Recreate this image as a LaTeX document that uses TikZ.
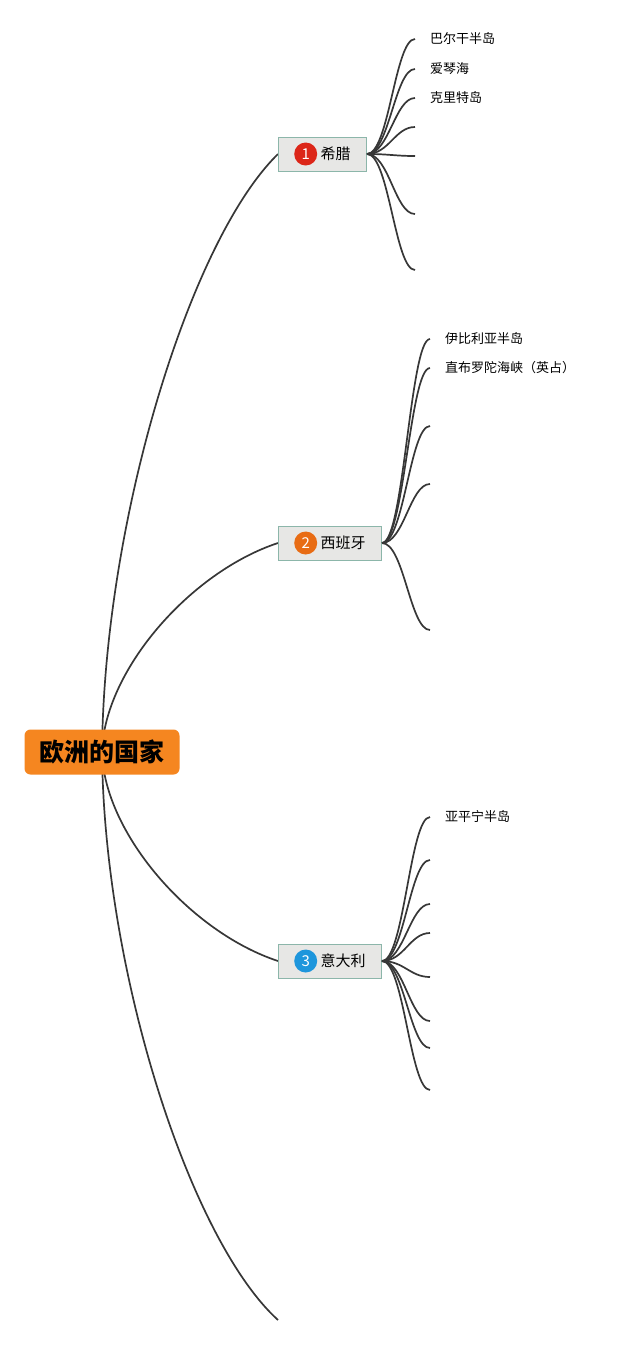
\documentclass[tikz,border=0pt]{standalone}
\usepackage{fontspec}
\setmainfont{Noto Sans CJK SC}
\usepackage{xcolor}
\usepackage{tikz}
\usetikzlibrary{positioning, backgrounds, calc}
\definecolor{rootorange}{RGB}{245,134,32}
\definecolor{branchgray}{RGB}{231,231,229}
\definecolor{branchedge}{RGB}{140,182,170}
\definecolor{numred}{RGB}{220,38,24}
\definecolor{numorange}{RGB}{232,108,20}
\definecolor{numblue}{RGB}{30,150,220}
\definecolor{linegray}{RGB}{55,55,55}
\tikzstyle{rootbox} = [rectangle, rounded corners=6pt, minimum width=155pt, minimum height=45pt, fill=rootorange, text=black, font=\fontsize{25}{30}\selectfont\bfseries]
\tikzstyle{branch} = [rectangle, anchor=west, minimum height=34pt, inner xsep=16pt, fill=branchgray, draw=branchedge, line width=1pt, font=\fontsize{15}{18}\selectfont, execute at begin node={\hspace*{26pt}}]
\tikzstyle{badge} = [circle, minimum size=23pt, inner sep=0pt, text=white, font=\fontsize{15}{17}\selectfont]
\tikzstyle{leaf} = [anchor=west, inner xsep=15pt, inner ysep=2pt, font=\fontsize{13}{16}\selectfont]
\tikzstyle{trunk} = [line width=1.7pt, draw=linegray]
\tikzstyle{twig} = [line width=1.7pt, draw=linegray, to path={.. controls ($(\tikztostart)+(22,0)$) and ($(\tikztotarget)+(-20,0)$) .. (\tikztotarget)}]

\begin{document}
\begin{tikzpicture}[x=1pt, y=-1pt]
    \useasboundingbox (0,0) rectangle (640,1345);

    % centre
    \node (root) [rootbox] at (102,752) {欧洲的国家};

    % countries
    \node (greece) [branch] at (278,154) {希腊};
    \node (spain) [branch] at (278,543) {西班牙};
    \node (italy) [branch] at (278,961) {意大利};
    \coordinate (other) at (278,1320);

    \node (greecenum) [badge, fill=numred, right=16pt of greece.west] {1};
    \node (spainnum) [badge, fill=numorange, right=16pt of spain.west] {2};
    \node (italynum) [badge, fill=numblue, right=16pt of italy.west] {3};

    % Greece
    \node (balkan) [leaf] at (415,39) {巴尔干半岛};
    \node (aegean) [leaf] at (415,69) {爱琴海};
    \node (crete) [leaf] at (415,98) {克里特岛};
    \coordinate (g4) at (415,127);
    \coordinate (g5) at (415,156);
    \coordinate (g6) at (415,214);
    \coordinate (g7) at (415,270);

    % Spain
    \node (iberia) [leaf] at (430,339) {伊比利亚半岛};
    \node (gibraltar) [leaf] at (430,368) {直布罗陀海峡（英占）};
    \coordinate (s3) at (430,426);
    \coordinate (s4) at (430,484);
    \coordinate (s5) at (430,630);

    % Italy
    \node (apennine) [leaf] at (430,817) {亚平宁半岛};
    \coordinate (i2) at (430,860);
    \coordinate (i3) at (430,904);
    \coordinate (i4) at (430,933);
    \coordinate (i5) at (430,977);
    \coordinate (i6) at (430,1021);
    \coordinate (i7) at (430,1048);
    \coordinate (i8) at (430,1090);

    \begin{scope}[on background layer]
        \draw [trunk] (root.center) .. controls (104,520) and (190,240) .. (greece.west);
        \draw [trunk] (root.center) .. controls (104,671) and (190,572) .. (spain.west);
        \draw [trunk] (root.center) .. controls (104,833) and (190,932) .. (italy.west);
        \draw [trunk] (root.center) .. controls (104,973) and (190,1240) .. (other);
    \end{scope}

    \draw [twig] (greece.east) to (balkan.west);
    \draw [twig] (greece.east) to (aegean.west);
    \draw [twig] (greece.east) to (crete.west);
    \draw [twig] (greece.east) to (g4);
    \draw [twig] (greece.east) to (g5);
    \draw [twig] (greece.east) to (g6);
    \draw [twig] (greece.east) to (g7);

    \draw [twig] (spain.east) to (iberia.west);
    \draw [twig] (spain.east) to (gibraltar.west);
    \draw [twig] (spain.east) to (s3);
    \draw [twig] (spain.east) to (s4);
    \draw [twig] (spain.east) to (s5);

    \draw [twig] (italy.east) to (apennine.west);
    \draw [twig] (italy.east) to (i2);
    \draw [twig] (italy.east) to (i3);
    \draw [twig] (italy.east) to (i4);
    \draw [twig] (italy.east) to (i5);
    \draw [twig] (italy.east) to (i6);
    \draw [twig] (italy.east) to (i7);
    \draw [twig] (italy.east) to (i8);
\end{tikzpicture}
\end{document}
